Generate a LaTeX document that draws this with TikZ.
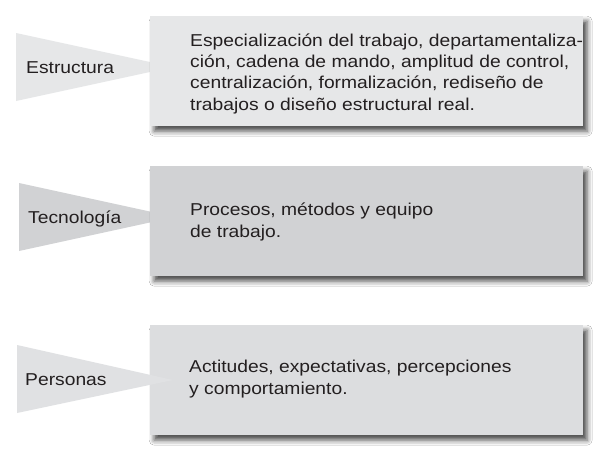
\documentclass[tikz,border=0pt]{standalone}
\usepackage{fontspec}
\setmainfont{Liberation Sans}[FakeStretch=1.12]
\usetikzlibrary{positioning}
\usetikzlibrary{shadows.blur}
\definecolor{mgrisA}{RGB}{230,231,232}
\definecolor{mgrisB}{RGB}{209,210,212}
\definecolor{mgrisC}{RGB}{220,221,223}
\definecolor{mgrisT}{RGB}{224,225,227}
\definecolor{mtexto}{RGB}{35,31,32}

\begin{document}
\begin{tikzpicture}[x=1pt, y=-1pt,
    caja/.style={minimum width=433pt, minimum height=110pt, anchor=north west, inner sep=0pt,
      blur shadow={shadow xshift=4pt, shadow yshift=-5pt, shadow blur radius=5pt, shadow opacity=70}},
    texto/.style={anchor=base west, align=left, text=mtexto, inner sep=0pt,
      font=\fontsize{17.2}{21.3}\selectfont}]
      \useasboundingbox (0, 0) rectangle (602, 458);
      \fill [white] (0, 0) rectangle (602, 458);

      % texts are placed by the baseline of their last line
      \fill [mgrisA] (16, 33) -- (173, 67) -- (16, 101) -- cycle;
      \node [caja, fill=mgrisA] (estructura) at (150, 16) {};
      \node [texto] (lestructura) at (26, 73) {Estructura};
      \node [texto] (testructura) at ([shift={(40, 94)}]estructura.north west)
        {Especialización del trabajo, departamentaliza-\\ción, cadena de mando, amplitud de control,\\centralización, formalización, rediseño de\\trabajos o diseño estructural real.};

      \fill [mgrisB] (19, 183) -- (175, 217) -- (19, 251) -- cycle;
      \node [caja, fill=mgrisB] (tecnologia) at (150, 166) {};
      \node [texto] (ltecnologia) at (28, 223) {Tecnología};
      \node [texto] (ttecnologia) at ([shift={(40, 71)}]tecnologia.north west)
        {Procesos, métodos y equipo\\de trabajo.};

      \node [caja, fill=mgrisC] (personas) at (150, 325) {};
      \fill [mgrisT] (17, 345) -- (173, 380) -- (17, 413) -- cycle;
      \node [texto] (lpersonas) at (25, 385) {Personas};
      \node [texto] (tpersonas) at ([shift={(39, 69)}]personas.north west)
        {Actitudes, expectativas, percepciones\\y comportamiento.};
    \end{tikzpicture}
\end{document}
